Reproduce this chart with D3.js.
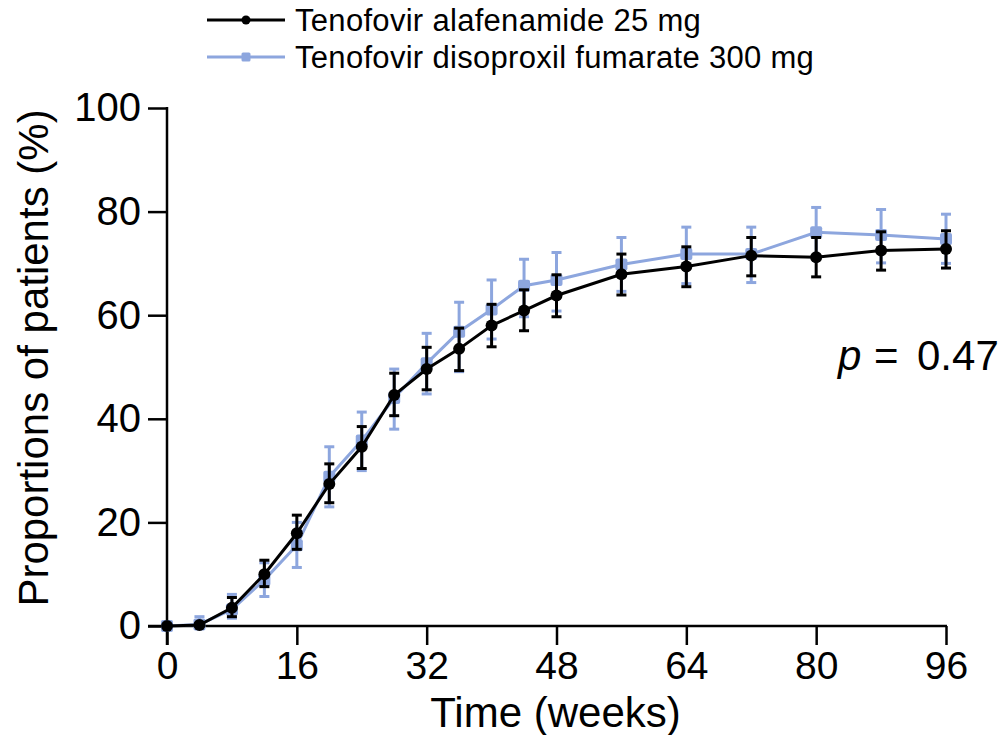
<!DOCTYPE html>
<html>
<head>
<meta charset="utf-8">
<script src="https://cdn.jsdelivr.net/npm/d3@7"></script>
<style>
html,body{margin:0;padding:0;background:#fff;}
text{font-family:"Liberation Sans",Arial,Helvetica,sans-serif;fill:#000;}
</style>
</head>
<body>
<svg id="chart" width="1007" height="735"></svg>
<script>
const weeks = [0,4,8,12,16,20,24,28,32,36,40,44,48,56,64,72,80,88,96];
const tafMean = [0,0.2,3.5,10.0,17.9,27.4,34.6,44.6,49.6,53.5,58.0,60.9,63.8,67.9,69.4,71.5,71.2,72.5,72.8];
const tafLow  = [0,0,1.8,7.6,14.8,23.8,30.4,40.6,45.6,49.3,53.9,57.0,59.7,63.9,65.5,67.6,67.4,68.7,69.1];
const tafHigh = [0,0.5,5.5,12.7,21.4,31.3,38.5,48.8,53.8,57.5,62.1,64.9,67.8,71.8,73.2,75.0,75.0,76.1,76.3];
const tdfMean = [0,0.3,3.2,8.9,15.6,28.8,35.8,44.0,50.7,56.8,61.1,65.7,66.8,69.8,71.8,71.8,76.0,75.5,74.7];
const tdfLow  = [0,0,1.5,5.7,11.3,23.0,30.0,38.0,44.8,49.1,55.4,59.7,60.8,64.6,66.1,66.3,71.2,70.1,70.0];
const tdfHigh = [0,1.8,6.1,12.2,20.0,34.6,41.3,49.6,56.5,62.5,66.8,70.8,72.1,75.0,77.0,77.0,80.8,80.4,79.5];
const xTicks = [0,16,32,48,64,80,96];
const yTicks = [0,20,40,60,80,100];
const seriesNames = ["Tenofovir alafenamide 25 mg","Tenofovir disoproxil fumarate 300 mg"];
const pLabel = "0.47";

const svg = d3.select("#chart");
const x = d3.scaleLinear().domain([0,96]).range([167,946]);
const y = d3.scaleLinear().domain([0,100]).range([626,108]);
const tick = 19;
const black = "#000000", blue = "#8DA6DE";

// axes
const gx = svg.append("g").attr("transform",`translate(0,${y(0)})`)
  .call(d3.axisBottom(x).tickValues(xTicks).tickSize(tick).tickPadding(6).tickSizeOuter(0));
gx.select(".domain").remove();
gx.selectAll("line").attr("stroke",black).attr("stroke-width",2.5);
gx.selectAll("text").attr("font-size",39).style("font-family","Liberation Sans, Arial, sans-serif");

const gy = svg.append("g").attr("transform",`translate(${x(0)},0)`)
  .call(d3.axisLeft(y).tickValues(yTicks).tickSize(tick).tickPadding(7).tickSizeOuter(0));
gy.select(".domain").remove();
gy.selectAll("line").attr("stroke",black).attr("stroke-width",2.5);
gy.selectAll("text").attr("font-size",40).style("font-family","Liberation Sans, Arial, sans-serif");

svg.append("line").attr("x1",x(0)-tick).attr("x2",x(96)+1).attr("y1",y(0)).attr("y2",y(0))
  .attr("stroke",black).attr("stroke-width",2.5);
svg.append("line").attr("x1",x(0)).attr("x2",x(0)).attr("y1",y(100)-1).attr("y2",y(0)+tick)
  .attr("stroke",black).attr("stroke-width",2.5);

// titles
svg.append("text").attr("x",(x(0)+x(96))/2-1).attr("y",727).attr("text-anchor","middle")
  .attr("font-size",42).text("Time (weeks)");
svg.append("text").attr("transform",`translate(48,${358}) rotate(-90)`).attr("text-anchor","middle")
  .attr("font-size",42).text("Proportions of patients (%)");

// p value
const pt = svg.append("text").attr("y",370).attr("font-size",42);
pt.append("tspan").attr("x",838).attr("font-style","italic").text("p");
pt.append("tspan").attr("x",874).text("=");
pt.append("tspan").attr("x",917).text(pLabel);

function drawSeries(mean, lo, hi, color, shape){
  const g = svg.append("g");
  const data = weeks.map((w,i)=>({w, m:mean[i], lo:lo[i], hi:hi[i]}));
  g.append("path").datum(data).attr("fill","none").attr("stroke",color).attr("stroke-width",3)
    .attr("d", d3.line().x(d=>x(d.w)).y(d=>y(d.m)));
  const eb = g.selectAll(".eb").data(data.filter(d=>d.hi-d.lo>0.01)).enter().append("g");
  eb.append("line").attr("x1",d=>x(d.w)).attr("x2",d=>x(d.w)).attr("y1",d=>y(d.lo)).attr("y2",d=>y(d.hi))
    .attr("stroke",color).attr("stroke-width",3);
  eb.append("line").attr("x1",d=>x(d.w)-5).attr("x2",d=>x(d.w)+5).attr("y1",d=>y(d.hi)).attr("y2",d=>y(d.hi))
    .attr("stroke",color).attr("stroke-width",3);
  eb.append("line").attr("x1",d=>x(d.w)-5).attr("x2",d=>x(d.w)+5).attr("y1",d=>y(d.lo)).attr("y2",d=>y(d.lo))
    .attr("stroke",color).attr("stroke-width",3);
  if(shape==="circle"){
    g.selectAll(".pt").data(data).enter().append("circle")
      .attr("cx",d=>x(d.w)).attr("cy",d=>y(d.m)).attr("r",6).attr("fill",color);
  } else {
    g.selectAll(".pt").data(data).enter().append("rect")
      .attr("x",d=>x(d.w)-6).attr("y",d=>y(d.m)-6).attr("width",12).attr("height",12)
      .attr("rx",2).attr("fill",color);
  }
}
drawSeries(tdfMean, tdfLow, tdfHigh, blue, "square");
drawSeries(tafMean, tafLow, tafHigh, black, "circle");

// legend
const lg = svg.append("g");
const legendRows = [{name:seriesNames[0], color:black, shape:"circle", cy:20},
                    {name:seriesNames[1], color:blue, shape:"square", cy:57}];
legendRows.forEach(r=>{
  lg.append("line").attr("x1",207).attr("x2",285).attr("y1",r.cy).attr("y2",r.cy)
    .attr("stroke",r.color).attr("stroke-width",3);
  if(r.shape==="circle") lg.append("circle").attr("cx",246).attr("cy",r.cy).attr("r",4.5).attr("fill",r.color);
  else lg.append("rect").attr("x",241.5).attr("y",r.cy-4.5).attr("width",9).attr("height",9).attr("rx",1.5).attr("fill",r.color);
  lg.append("text").attr("x",295).attr("y",r.cy+11).attr("font-size",31).attr("letter-spacing",0.3).text(r.name);
});
</script>
</body>
</html>
